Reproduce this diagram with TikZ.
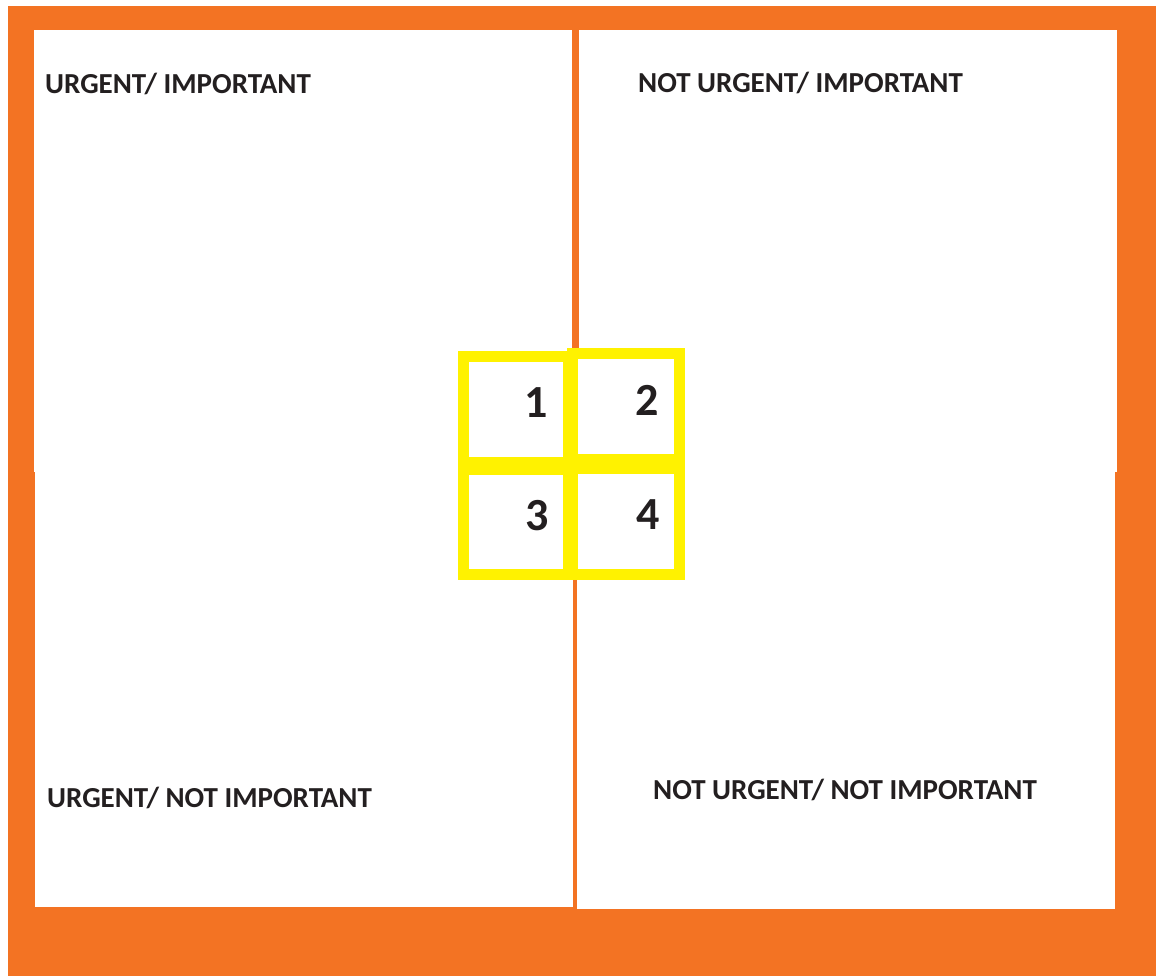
\documentclass[tikz,border=0pt]{standalone}
\usepackage{fontspec}
\setmainfont{Carlito}
\usetikzlibrary{positioning}
\definecolor{bgorange}{RGB}{243,115,35}
\definecolor{boxyellow}{RGB}{255,242,0}
\definecolor{textgray}{RGB}{35,31,32}

\begin{document}
\begin{tikzpicture}[x=1pt, y=-1pt,
    quad/.style={fill=white},
    qlabel/.style={anchor=base west, inner sep=0pt, text=textgray, font=\bfseries\fontsize{29}{35}\selectfont},
    cell/.style={draw=boxyellow, line width=11pt, fill=white, inner sep=0pt},
    num/.style={anchor=base east, inner sep=0pt, text=textgray, font=\bfseries\fontsize{46}{52}\selectfont}
]
\useasboundingbox (0,0) rectangle (1156,977);
\fill[bgorange] (8,6) rectangle (1156,976);

% quadrants
\path[quad] (34,30) rectangle (572,472);
\path[quad] (579,30) rectangle (1117,472);
\path[quad] (35,472) rectangle (573,907);
\path[quad] (577,472) rectangle (1115,909);

\node[qlabel] (ui) at (45,93) {URGENT/ IMPORTANT};
\node[qlabel] (nui) at (638,92) {NOT URGENT/ IMPORTANT};
\node[qlabel] (uni) at (47,807) {URGENT/ NOT IMPORTANT};
\node[qlabel] (nuni) at (653,799) {NOT URGENT/ NOT IMPORTANT};

% yellow squares
\node[cell, minimum width=105.5pt, minimum height=106pt] (c1) at (515.75,409.5) {};
\node[cell, minimum width=105.5pt, minimum height=105pt] (c3) at (515.75,522) {};
\node[cell, minimum width=106.5pt, minimum height=106pt] (c2) at (625.75,406.5) {};
\node[cell, minimum width=106.5pt, minimum height=105.5pt] (c4) at (625.75,521.25) {};

\node[num] (n1) at (548,417) {1};
\node[num] (n2) at (659,415) {2};
\node[num] (n3) at (549,530) {3};
\node[num] (n4) at (660,529) {4};
\end{tikzpicture}
\end{document}
